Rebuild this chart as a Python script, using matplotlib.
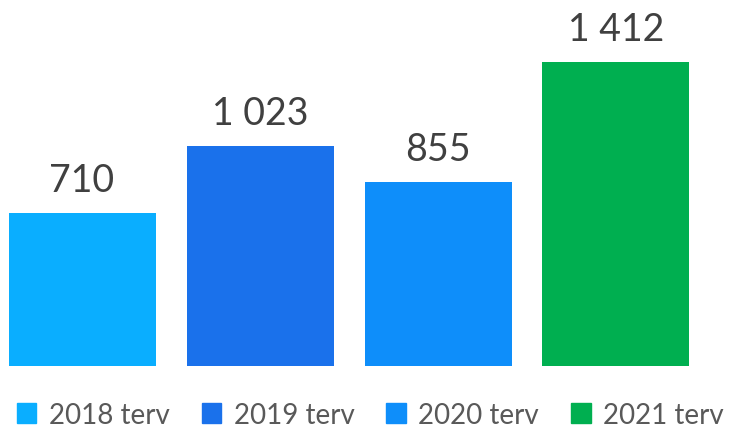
import matplotlib.pyplot as plt
from matplotlib.patches import Patch

years = ["2018 terv", "2019 terv", "2020 terv", "2021 terv"]
values = [710, 1023, 855, 1412]
value_labels = ["710", "1 023", "855", "1 412"]
colors = ["#0AAEFF", "#1A71EB", "#0E8EFA", "#00AF50"]

plt.rcParams['font.family'] = ['Lato', 'DejaVu Sans']

fig = plt.figure(figsize=(7.29, 4.31), dpi=100)
ax = fig.add_axes([0, 64 / 431, 1, 367 / 431])

x = range(len(years))
bars = ax.bar(x, values, width=0.826, color=colors)

for b, lab in zip(bars, value_labels):
    ax.annotate(lab, (b.get_x() + b.get_width() / 2, b.get_height()),
                xytext=(0, 11), textcoords="offset points",
                ha="center", va="bottom", fontsize=27, color="#404040")

ax.set_xlim(-0.461, 3.635)
ax.set_ylim(0, 1705)
ax.axis("off")

handles = [Patch(color=c, label=y) for c, y in zip(colors, years)]
fig.legend(handles=handles, loc="center", bbox_to_anchor=(0.508, 0.035),
           ncol=4, frameon=False, fontsize=20, handlelength=0.7, handleheight=0.7,
           handletextpad=0.45, columnspacing=1.15, labelcolor="#595959",
           borderpad=0)

fig.savefig("out.png", dpi=100)
